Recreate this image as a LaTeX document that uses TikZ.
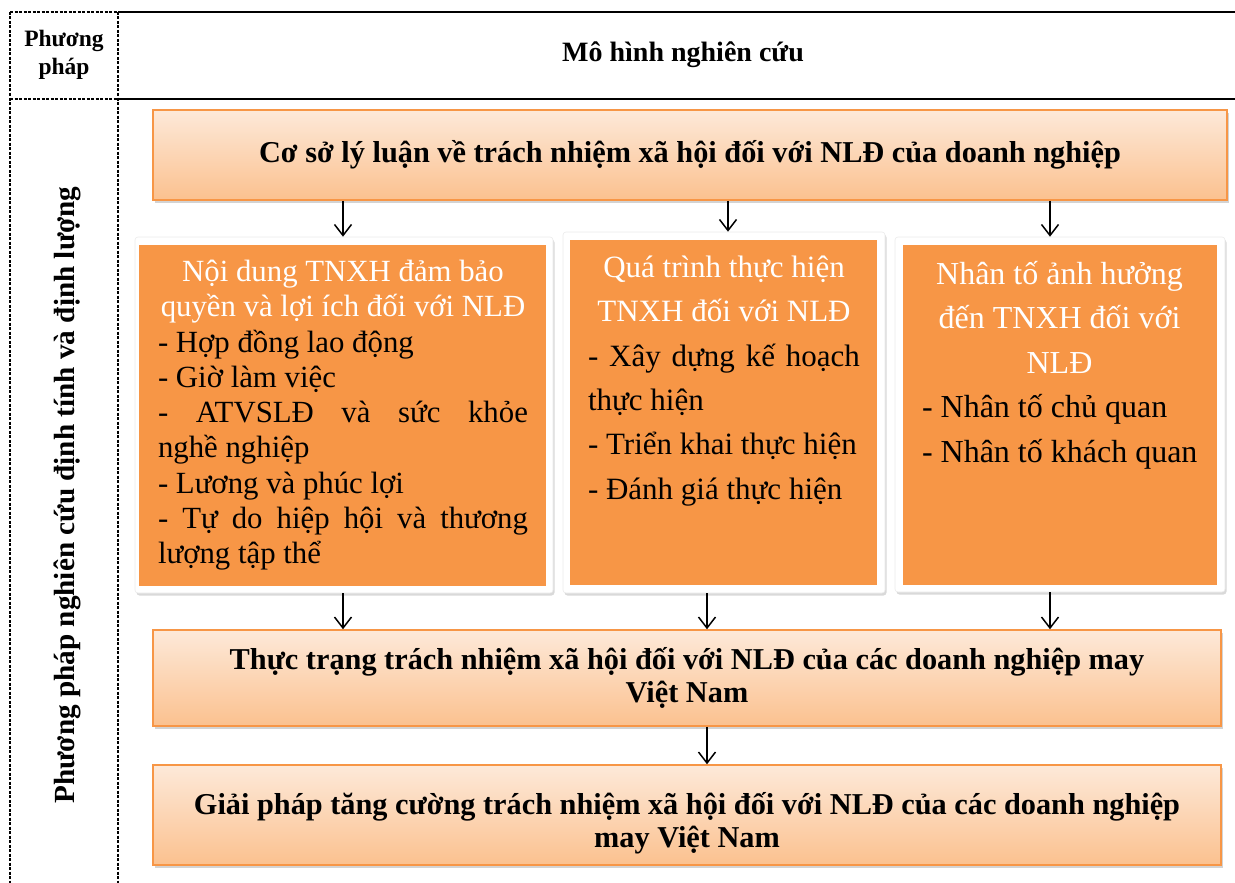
\documentclass[tikz,border=0pt]{standalone}
\usepackage{fontspec}
\setmainfont{Liberation Serif}
\usetikzlibrary{arrows.meta,shadows}

\definecolor{accent}{HTML}{F79646}
\definecolor{peachtop}{HTML}{FDE9D9}
\definecolor{peachbot}{HTML}{FBC18F}

\tikzset{
  x=1pt, y=-1pt,
  gradbox/.style={draw=accent, line width=1.5pt, top color=peachtop, bottom color=peachbot,
    drop shadow={opacity=0.35, shadow xshift=2pt, shadow yshift=-3pt},
    align=center, inner sep=0pt, font=\bfseries\fontsize{30.3}{33}\selectfont},
  boxtext/.style={align=center, inner sep=0pt, font=\bfseries\fontsize{30.3}{33}\selectfont},
  framebox/.style={fill=white, draw=black!8, line width=0.6pt, rounded corners=3pt,
    drop shadow={opacity=0.3, shadow xshift=1.5pt, shadow yshift=-2.5pt}},
  innerbox/.style={fill=accent, inner xsep=0pt, inner ysep=0pt},
  arr/.style={-{Straight Barb[length=11pt,width=17pt]}, line width=1.5pt},
  solidrule/.style={line width=2.6pt},
  dashrule/.style={line width=1.3pt, dash pattern=on 3pt off 1.5pt},
}

\begin{document}
\begin{tikzpicture}
\useasboundingbox (0,0) rectangle (1235,883);

% table rules
\draw[solidrule] (118,12) -- (1235,12);
\draw[solidrule] (118,99) -- (1235,99);
\draw[dashrule] (10,12) -- (118,12);
\draw[dashrule] (10,99) -- (118,99);
\draw[dashrule] (10,12) -- (10,883);
\draw[dashrule] (118,12) -- (118,883);

% header cells
\node[font=\bfseries\fontsize{23.5}{28}\selectfont, align=center] (hmethod) at (64,55) {Phương\\pháp};
\node[font=\bfseries\fontsize{28}{32}\selectfont] (hmodel) at (683,55) {Mô hình nghiên cứu};

% method column
\node[font=\bfseries\fontsize{29.2}{32}\selectfont, rotate=90] (method) at (67,495)
  {Phương pháp nghiên cứu định tính và định lượng};

% top box
\node[gradbox, minimum width=1074pt, minimum height=90pt] (base) at (690,155)
  {Cơ sở lý luận về trách nhiệm xã hội đối với NLĐ của doanh nghiệp};

% white frames
\node[framebox, minimum width=418pt, minimum height=356pt] (f1) at (344,415) {};
\node[framebox, minimum width=322pt, minimum height=361pt] (f2) at (724,412.5) {};
\node[framebox, minimum width=330pt, minimum height=355pt] (f3) at (1060,414.5) {};

% orange content boxes
\node[innerbox] (b1) at (342.5,415.5) {%
  \hspace*{19pt}\begin{minipage}[c][341pt][t]{370pt}
  \vspace*{15pt}
  \fontsize{30.8}{35.3}\selectfont
  {\centering\color{white}Nội dung TNXH đảm bảo\\quyền và lợi ích đối với NLĐ\par}
  - Hợp đồng lao động\par
  - Giờ làm việc\par
  - ATVSLĐ và sức khỏe\linebreak nghề nghiệp\par
  - Lương và phúc lợi\par
  - Tự do hiệp hội và thương\linebreak lượng tập thể\par
  \end{minipage}\hspace*{18pt}};
\node[innerbox] (b2) at (723.5,412.5) {%
  \hspace*{18pt}\begin{minipage}[c][345pt][t]{272pt}
  \vspace*{16pt}
  \fontsize{31}{44.3}\selectfont
  {\centering\color{white}Quá trình thực hiện\\TNXH đối với NLĐ\par}
  - Xây dựng kế hoạch\linebreak thực hiện\par
  - Triển khai thực hiện\par
  - Đánh giá thực hiện\par
  \end{minipage}\hspace*{17pt}};
\node[innerbox] (b3) at (1060,415) {%
  \hspace*{19pt}\begin{minipage}[c][340pt][t]{281pt}
  \vspace*{16pt}
  \fontsize{32}{44.5}\selectfont
  {\centering\color{white}\hspace*{-6pt}Nhân tố ảnh hưởng\\\hspace*{-6pt}đến TNXH đối với\\\hspace*{-6pt}NLĐ\par}
  - Nhân tố chủ quan\par
  - Nhân tố khách quan\par
  \end{minipage}\hspace*{14pt}};

% lower boxes
\node[gradbox, minimum width=1068pt, minimum height=96pt] (state) at (687,678)
  {Thực trạng trách nhiệm xã hội đối với NLĐ của các doanh nghiệp may\\Việt Nam};
\node[gradbox, minimum width=1068pt, minimum height=100pt] (sol) at (687,815) {};
\node[boxtext] (soltext) at (687,823)
  {Giải pháp tăng cường trách nhiệm xã hội đối với NLĐ của các doanh nghiệp\\may Việt Nam};

% arrow columns
\coordinate (c1) at (343,0);
\coordinate (c2) at (728,0);
\coordinate (c3) at (1050,0);
\coordinate (c4) at (707,0);

\draw[arr] (base.south -| c1) -- (f1.north -| c1);
\draw[arr] (base.south -| c2) -- (f2.north -| c2);
\draw[arr] (base.south -| c3) -- (f3.north -| c3);
\draw[arr] (f1.south -| c1) -- (state.north -| c1);
\draw[arr] (f2.south -| c4) -- (state.north -| c4);
\draw[arr] (f3.south -| c3) -- (state.north -| c3);
\draw[arr] (state.south -| c4) -- (sol.north -| c4);
\end{tikzpicture}
\end{document}
